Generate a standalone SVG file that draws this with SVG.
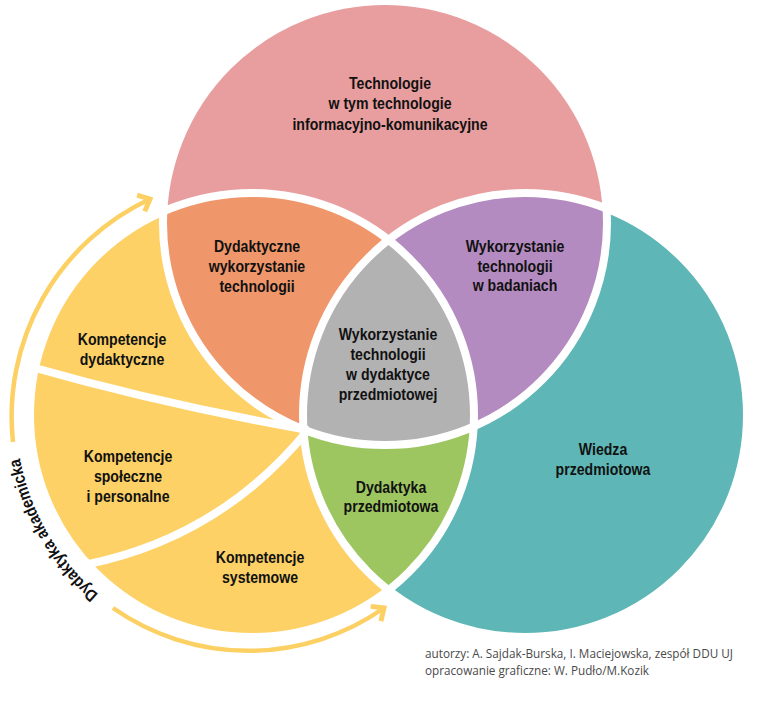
<svg xmlns="http://www.w3.org/2000/svg" xmlns:xlink="http://www.w3.org/1999/xlink" width="757" height="709" viewBox="0 0 757 709">
<style>
.lbl{font-family:"Liberation Sans",Arial,sans-serif;font-weight:bold;font-size:17px;fill:#111;text-anchor:middle}
.cred{font-family:"Open Sans","Noto Sans","Liberation Sans",sans-serif;font-size:13px;fill:#4a4a4a}
.sep{fill:none;stroke:#fff;stroke-width:8}
.arr{fill:none;stroke:#FCD062;stroke-width:4.5}
</style>
<defs>
<clipPath id="cTop"><circle cx="385" cy="223" r="222"/></clipPath>
<clipPath id="cLeft"><circle cx="252" cy="415" r="222"/></clipPath>
<clipPath id="cRight"><circle cx="525" cy="415" r="222"/></clipPath>
<marker id="chev" markerUnits="userSpaceOnUse" viewBox="0 0 30 30" markerWidth="30" markerHeight="30" refX="15" refY="15" orient="auto">
<path d="M5,6 L15,15 L5,24" fill="none" stroke="#FCD062" stroke-width="5" stroke-linejoin="miter"/>
</marker>
<path id="textArc" d="M116.6,608.3 A236 236 0 0 1 16.9,435.6"/>
</defs>

<g id="circle-top"><circle cx="385" cy="223" r="222" fill="#E89E9F"/></g>
<g id="circle-left"><circle cx="252" cy="415" r="222" fill="#FDD166"/></g>
<g id="circle-right"><circle cx="525" cy="415" r="222" fill="#5EB7B6"/></g>
<g id="region-orange"><circle cx="252" cy="415" r="222" fill="#F0966B" clip-path="url(#cTop)"/></g>
<g id="region-purple"><circle cx="525" cy="415" r="222" fill="#B48BC0" clip-path="url(#cTop)"/></g>
<g id="region-green"><circle cx="252" cy="415" r="222" fill="#9DC661" clip-path="url(#cRight)"/></g>
<g id="region-gray"><g clip-path="url(#cLeft)"><circle cx="385" cy="223" r="222" fill="#B3B2B2" clip-path="url(#cRight)"/></g></g>

<g id="separators">
<circle class="sep" cx="385" cy="223" r="222"/>
<circle class="sep" cx="252" cy="415" r="222"/>
<circle class="sep" cx="525" cy="415" r="222"/>
<path class="sep" stroke-width="7" d="M28,366 Q165,405 308,430"/>
<path class="sep" stroke-width="7" d="M84,565 Q220,538 308,430"/>
</g>

<g id="connectors">
<path class="arr" d="M13,442 A240 240 0 0 1 150,199" marker-end="url(#chev)"/>
<path class="arr" d="M113,608 A236 236 0 0 0 384,608" marker-end="url(#chev)"/>
</g>

<g id="label-arc">
<text class="lbl" font-size="16"><textPath xlink:href="#textArc" href="#textArc" startOffset="50%" textLength="160" lengthAdjust="spacingAndGlyphs">Dydaktyka akademicka</textPath></text>
</g>

<g id="t-technologie" transform="translate(390 0) scale(0.83 1)"><text class="lbl"><tspan x="0" y="89">Technologie</tspan><tspan x="0" y="109.5">w tym technologie</tspan><tspan x="0" y="130">informacyjno-komunikacyjne</tspan></text></g>
<g id="t-dydaktyczne" transform="translate(257 0) scale(0.83 1)"><text class="lbl"><tspan x="0" y="252">Dydaktyczne</tspan><tspan x="0" y="272">wykorzystanie</tspan><tspan x="0" y="292">technologii</tspan></text></g>
<g id="t-badania" transform="translate(515 0) scale(0.83 1)"><text class="lbl"><tspan x="0" y="252">Wykorzystanie</tspan><tspan x="0" y="272">technologii</tspan><tspan x="0" y="291">w badaniach</tspan></text></g>
<g id="t-center" transform="translate(388 0) scale(0.83 1)"><text class="lbl"><tspan x="0" y="340">Wykorzystanie</tspan><tspan x="0" y="360">technologii</tspan><tspan x="0" y="380">w dydaktyce</tspan><tspan x="0" y="400">przedmiotowej</tspan></text></g>
<g id="t-komp-dyd" transform="translate(122 0) scale(0.83 1)"><text class="lbl"><tspan x="0" y="345">Kompetencje</tspan><tspan x="0" y="365">dydaktyczne</tspan></text></g>
<g id="t-komp-spol" transform="translate(128 0) scale(0.83 1)"><text class="lbl"><tspan x="0" y="462">Kompetencje</tspan><tspan x="0" y="482">społeczne</tspan><tspan x="0" y="502">i personalne</tspan></text></g>
<g id="t-komp-sys" transform="translate(260 0) scale(0.83 1)"><text class="lbl"><tspan x="0" y="563">Kompetencje</tspan><tspan x="0" y="583">systemowe</tspan></text></g>
<g id="t-dyd-przed" transform="translate(391 0) scale(0.83 1)"><text class="lbl"><tspan x="0" y="493">Dydaktyka</tspan><tspan x="0" y="512">przedmiotowa</tspan></text></g>
<g id="t-wiedza" transform="translate(603 0) scale(0.83 1)"><text class="lbl"><tspan x="0" y="455">Wiedza</tspan><tspan x="0" y="475">przedmiotowa</tspan></text></g>

<g id="credits">
<text class="cred" x="425" y="658" textLength="308" lengthAdjust="spacingAndGlyphs">autorzy:  A. Sajdak-Burska, I. Maciejowska, zespół DDU UJ</text>
<text class="cred" x="425" y="675" textLength="224" lengthAdjust="spacingAndGlyphs">opracowanie graficzne: W. Pudło/M.Kozik</text>
</g>
</svg>
